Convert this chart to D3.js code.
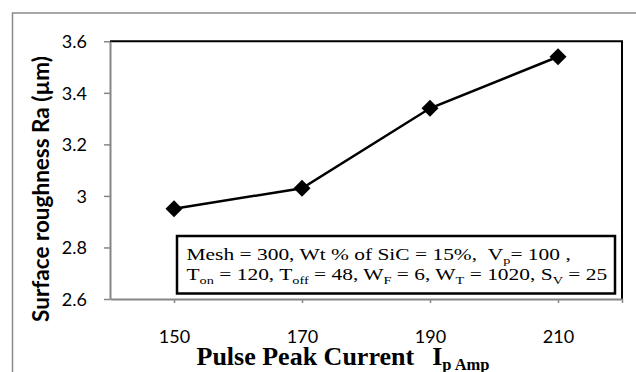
<!DOCTYPE html>
<html>
<head>
<meta charset="utf-8">
<script src="https://cdn.jsdelivr.net/npm/d3@7/dist/d3.min.js"></script>
<style>
  html, body { margin: 0; padding: 0; background: #fff; }
  svg { display: block; }
  text { white-space: pre; }
</style>
</head>
<body>
<svg id="chart" width="636" height="372"></svg>
<script>
// ---- data ----
const currents = [150, 170, 190, 210];
const roughness = [2.95, 3.03, 3.34, 3.54];
const xTicks = [150, 170, 190, 210];
const yTicks = [2.6, 2.8, 3.0, 3.2, 3.4, 3.6];
const yTickLabels = ["2.6", "2.8", "3", "3.2", "3.4", "3.6"];
const xDomain = [140, 220];
const yDomain = [2.6, 3.6];

const svg = d3.select("#chart");
const plot = { left: 110, right: 622, top: 41.3, bottom: 299 };

const x = d3.scaleLinear().domain(xDomain).range([plot.left, plot.right]);
const y = d3.scaleLinear().domain(yDomain).range([plot.bottom, plot.top]);

// outer chart frame
svg.append("rect")
  .attr("x", 12.5).attr("y", 13).attr("width", 700).attr("height", 400)
  .attr("fill", "none").attr("stroke", "#8a8a8a").attr("stroke-width", 1.5);

// plot border (top & right black)
svg.append("path")
  .attr("d", `M${plot.left},${plot.top}H${plot.right}V${plot.bottom}`)
  .attr("fill", "none").attr("stroke", "#000").attr("stroke-width", 2);

// y axis
const yAxis = d3.axisLeft(y).tickValues(yTicks).tickSize(6).tickSizeOuter(0)
  .tickFormat((d, i) => yTickLabels[i]);
const gy = svg.append("g").attr("transform", `translate(${plot.left},0)`).call(yAxis);
gy.select(".domain").attr("stroke", "#868686").attr("stroke-width", 2);
gy.selectAll(".tick line").attr("stroke", "#868686").attr("stroke-width", 1.5);
gy.selectAll(".tick text")
  .attr("x", -23).attr("dy", "0.36em")
  .attr("font-family", "Lato, 'Open Sans', sans-serif").attr("font-size", 18)
  .attr("fill", "#000");

// x axis
const xAxis = d3.axisBottom(x).tickValues(xTicks.concat([220])).tickSize(4).tickSizeOuter(0)
  .tickFormat(d => xTicks.includes(d) ? String(d) : "");
const gx = svg.append("g").attr("transform", `translate(0,${plot.bottom})`).call(xAxis);
gx.select(".domain").attr("stroke", "#868686").attr("stroke-width", 2);
gx.selectAll(".tick line").attr("stroke", "#868686").attr("stroke-width", 1.5);
gx.selectAll(".tick text")
  .attr("y", 31).attr("dy", "0.71em")
  .attr("font-family", "Lato, 'Open Sans', sans-serif").attr("font-size", 18)
  .attr("fill", "#000");

// data line
const pts = currents.map((c, i) => [c, roughness[i]]);
svg.append("path")
  .datum(pts)
  .attr("d", d3.line().x(d => x(d[0])).y(d => y(d[1])))
  .attr("fill", "none").attr("stroke", "#000").attr("stroke-width", 2.5);

// diamond markers
svg.selectAll(".mk").data(pts).enter().append("path")
  .attr("class", "mk")
  .attr("transform", d => `translate(${x(d[0])},${y(d[1])})`)
  .attr("d", "M0,-8.5L8.5,0L0,8.5L-8.5,0Z")
  .attr("fill", "#000");

// y axis title
svg.append("text")
  .attr("transform", "translate(49,189) rotate(-90)")
  .attr("text-anchor", "middle")
  .attr("font-family", "Lato, 'Open Sans', sans-serif")
  .attr("font-weight", "bold").attr("font-size", 22.5)
  .attr("fill", "#000")
  .text("Surface roughness Ra (µm)");

// x axis title
const xt = svg.append("text")
  .attr("x", 196.5).attr("y", 365)
  .attr("font-family", "'Liberation Serif', 'Times New Roman', serif")
  .attr("font-weight", "bold").attr("font-size", 26)
  .attr("fill", "#000");
xt.append("tspan").text("Pulse Peak Current");
xt.append("tspan").attr("dx", 18).text("I");
xt.append("tspan").attr("font-size", 16.5).attr("dy", 5).text("p Amp");

// annotation box
svg.append("rect")
  .attr("x", 177).attr("y", 236).attr("width", 438).attr("height", 57.5)
  .attr("fill", "#fff").attr("stroke", "#000").attr("stroke-width", 2.5);

const lines = [
  [["Mesh = 300, Wt % of SiC = 15%,\u00a0\u00a0V", 0], ["p", 1], ["= 100 ,", 0]],
  [["T", 0], ["on", 1], [" = 120, T", 0], ["off", 1], [" = 48, W", 0], ["F", 1],
   [" = 6, W", 0], ["T", 1], [" = 1020, S", 0], ["V", 1], [" = 25", 0]]
];
const baselines = [260, 279.5];
lines.forEach((segs, li) => {
  const g = svg.append("g").attr("transform", `translate(186.5,${baselines[li]}) scale(1.3,1)`);
  const t = g.append("text").attr("x", 0).attr("y", 0)
    .attr("font-family", "'Liberation Serif', 'Times New Roman', serif")
    .attr("font-size", 16.5).attr("fill", "#000");
  let sub = false;
  segs.forEach(([s, isSub]) => {
    const ts = t.append("tspan").text(s);
    if (isSub && !sub) { ts.attr("font-size", 11).attr("dy", 4); sub = true; }
    else if (!isSub && sub) { ts.attr("dy", -4); sub = false; }
  });
});
</script>
</body>
</html>
